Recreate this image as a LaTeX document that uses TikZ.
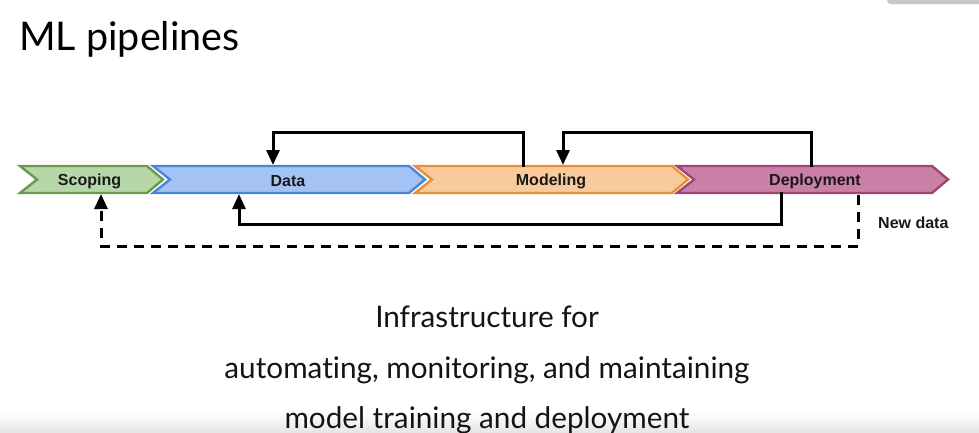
\documentclass[tikz,border=0pt]{standalone}
\usepackage{fontspec}
\setmainfont{Lato}[Ligatures=NoCommon]
\newfontfamily\arialf{Liberation Sans}
\usetikzlibrary{arrows.meta}
\definecolor{gfill}{HTML}{B6D7A8}
\definecolor{gline}{HTML}{6A9A4C}
\definecolor{bfill}{HTML}{A4C2F4}
\definecolor{bline}{HTML}{4A86D8}
\definecolor{ofill}{HTML}{F9CB9C}
\definecolor{oline}{HTML}{E69138}
\definecolor{pfill}{HTML}{CB7FA6}
\definecolor{pline}{HTML}{9C4674}
\tikzset{
  chev/.style={line width=2.4pt, line join=miter},
  lbl/.style={font=\arialf\bfseries\fontsize{16}{19}\selectfont, text=black!90, inner sep=0pt},
  conn/.style={line width=3pt, black, -{Triangle[width=13pt,length=15pt]}},
  dconn/.style={conn, dash pattern=on 10pt off 7pt},
  big/.style={font=\fontsize{29.7}{34}\selectfont, inner sep=0pt, text=black!92},
}
\begin{document}
\begin{tikzpicture}[x=1pt,y=-1pt]
\clip (0,0) rectangle (979,432);
\useasboundingbox (0,0) rectangle (979,432);
\fill[white] (0,0) rectangle (979,432);
% faint video overlay artefacts
\fill[black!22, rounded corners=4pt] (887,-8) rectangle (985,4);
\shade[top color=white, bottom color=black!10] (0,412) rectangle (979,432);

% title
\node[font=\fontsize{39.5}{46}\selectfont, anchor=base west, inner sep=0pt] (title) at (19,50) {ML pipelines};

% chevrons
\filldraw[chev, fill=gfill, draw=gline] (20,166) -- (147,166) -- (163,179.5) -- (147,193) -- (20,193) -- (37,179.5) -- cycle;
\filldraw[chev, fill=bfill, draw=bline] (153,166) -- (409,166) -- (425,179.5) -- (409,193) -- (153,193) -- (170,179.5) -- cycle;
\filldraw[chev, fill=ofill, draw=oline] (415,166) -- (672,166) -- (688,179.5) -- (672,193) -- (415,193) -- (432,179.5) -- cycle;
\filldraw[chev, fill=pfill, draw=pline] (677,166) -- (932,166) -- (948,179.5) -- (932,193) -- (677,193) -- (694,179.5) -- cycle;

\node[lbl] (scoping) at (89.5,181) {Scoping};
\node[lbl] (data) at (288,181) {Data};
\node[lbl] (modeling) at (551,181) {Modeling};
\node[lbl] (deployment) at (815,181) {Deployment};
\node[lbl, anchor=west] (newdata) at (878,223) {New data};

% connector end points
\coordinate (modTop) at (523,167);
\coordinate (dataTop) at (273,165);
\coordinate (depTop) at (811,167);
\coordinate (modTopIn) at (563,165);
\coordinate (depBot) at (781,192);
\coordinate (dataBot) at (239,194);
\coordinate (depBotD) at (858,195);
\coordinate (scopBot) at (101,194);
\coordinate (c1) at (273,132);
\coordinate (c2) at (563,132);
\coordinate (c3) at (239,224);
\coordinate (c4) at (101,246);

\draw[conn] (modTop) |- (c1) -- (dataTop);
\draw[conn] (depTop) |- (c2) -- (modTopIn);
\draw[conn] (depBot) |- (c3) -- (dataBot);
\draw[dconn] (depBotD) |- (c4) -- (scopBot);

% bottom text
\node[big, anchor=base] (l1) at (487,327) {Infrastructure for};
\node[big, anchor=base] (l2) at (487,378) {automating, monitoring, and maintaining};
\node[big, anchor=base] (l3) at (487,428) {model training and deployment};
\end{tikzpicture}
\end{document}
